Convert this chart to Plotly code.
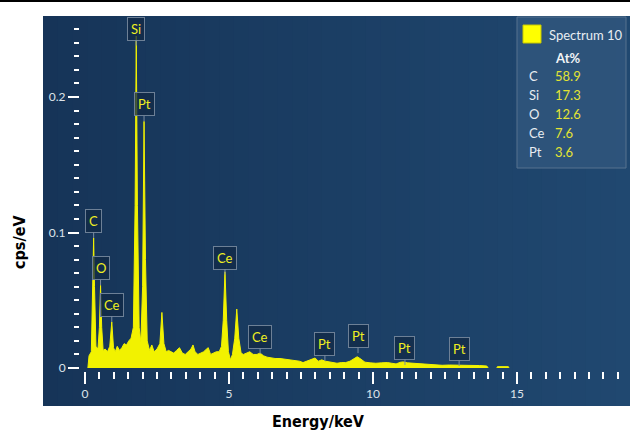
import plotly.graph_objects as go

# ---------------- data ----------------
energy_kev = [
    0.10, 0.14, 0.22, 0.27, 0.30, 0.33, 0.38, 0.45, 0.50, 0.54, 0.58, 0.63, 0.70, 0.78, 0.86,
    0.93, 0.99, 1.05, 1.12, 1.20, 1.28, 1.36, 1.44, 1.52, 1.60, 1.68, 1.74, 1.78, 1.82, 1.88,
    1.94, 2.00, 2.05, 2.10, 2.16, 2.24, 2.32, 2.40, 2.50, 2.60, 2.67, 2.74, 2.82, 2.90, 2.98,
    3.08, 3.18, 3.28, 3.38, 3.48, 3.58, 3.68, 3.75, 3.82, 3.92, 4.02, 4.12, 4.22, 4.28, 4.36,
    4.46, 4.56, 4.66, 4.74, 4.80, 4.86, 4.92, 4.98, 5.05, 5.12, 5.20, 5.27, 5.34, 5.42, 5.50,
    5.60, 5.72, 5.84, 5.97, 6.08, 6.20, 6.32, 6.45, 6.60, 6.77, 6.95, 7.12, 7.30, 7.45, 7.57,
    7.70, 7.85, 7.99, 8.10, 8.22, 8.35, 8.50, 8.62, 8.75, 8.90, 9.05, 9.20, 9.35, 9.45, 9.55,
    9.72, 9.90, 10.10, 10.30, 10.50, 10.65, 10.80, 10.95, 11.05, 11.20, 11.40, 11.60, 11.85,
    12.10, 12.40, 12.65, 12.90, 13.15, 13.40, 13.70, 13.95, 14.00, None, 14.30, 14.32, 14.70, 14.72,
]
counts_cps_per_ev = [
    0.000, 0.009, 0.012, 0.060, 0.096, 0.060, 0.016, 0.014, 0.030, 0.061, 0.030, 0.013, 0.014, 0.012, 0.016,
    0.034, 0.015, 0.012, 0.016, 0.013, 0.015, 0.018, 0.017, 0.020, 0.022, 0.030, 0.120, 0.245, 0.120, 0.030,
    0.019, 0.060, 0.182, 0.080, 0.020, 0.013, 0.017, 0.012, 0.014, 0.018, 0.041, 0.018, 0.012, 0.013, 0.012,
    0.011, 0.013, 0.015, 0.011, 0.010, 0.012, 0.014, 0.017, 0.012, 0.010, 0.011, 0.012, 0.014, 0.015, 0.010,
    0.011, 0.012, 0.012, 0.016, 0.035, 0.071, 0.035, 0.012, 0.006, 0.010, 0.022, 0.0435, 0.022, 0.011, 0.010,
    0.011, 0.012, 0.010, 0.010, 0.011, 0.009, 0.008, 0.0075, 0.007, 0.007, 0.0065, 0.006, 0.0055, 0.005, 0.004,
    0.005, 0.006, 0.0074, 0.005, 0.006, 0.005, 0.0045, 0.004, 0.0035, 0.004, 0.004, 0.005, 0.007, 0.0083, 0.007,
    0.0043, 0.0038, 0.0035, 0.0038, 0.004, 0.0035, 0.003, 0.0042, 0.0045, 0.0038, 0.0035, 0.003, 0.0028,
    0.0027, 0.002, 0.0022, 0.0022, 0.002, 0.002, 0.0018, 0.0015, 0.000, None, 0.000, 0.001, 0.001, 0.000,
]

peak_labels = ["C", "O", "Ce", "Si", "Pt", "Ce", "Ce", "Pt", "Pt", "Pt", "Pt"]
peak_energy = [0.30, 0.54, 0.93, 1.78, 2.05, 4.86, 6.08, 8.33, 9.48, 11.11, 12.99]
peak_tip = [0.096, 0.061, 0.034, 0.238, 0.182, 0.069, 0.0103, 0.0052, 0.011, 0.0022, 0.0015]

quant_elements = ["C", "Si", "O", "Ce", "Pt"]
quant_at_pct = ["58.9", "17.3", "12.6", "7.6", "3.6"]
spectrum_name = "Spectrum 10"

x_major_ticks = [0, 5, 10, 15]
y_major_ticks = [0, 0.1, 0.2]
y_tick_text = ["0", "0.1", "0.2"]

# ---------------- layout helpers ----------------
W, H = 630, 433
ML, MR, MT, MB = 43, 0, 16, 27
PW, PH = W - ML - MR, H - MT - MB


def px2x(px):
    return (px - ML) / PW


def py2y(py):
    return (H - MB - py) / PH


UI_FONT = "Lato, Open Sans, sans-serif"
TITLE_FONT = "Liberation Sans Narrow, DejaVu Sans Condensed, Roboto, Liberation Sans, sans-serif"

fig = go.Figure()
fig.add_trace(go.Scatter(
    x=energy_kev, y=counts_cps_per_ev, mode="lines", name=spectrum_name,
    line=dict(color="#f2f200", width=1), fill="tozeroy", fillcolor="#f2f200",
    connectgaps=False, showlegend=False, hoverinfo="skip",
))

shapes = []
# background gradient strips
n = 40
c0, c1 = (22, 52, 88), (32, 72, 112)
for i in range(n):
    t = i / (n - 1)
    col = tuple(int(round(a + (b - a) * t)) for a, b in zip(c0, c1))
    shapes.append(dict(type="rect", xref="paper", yref="paper", layer="below",
                       x0=i / n, x1=(i + 1) / n + 0.002, y0=0, y1=1,
                       fillcolor="rgb(%d,%d,%d)" % col, line=dict(width=0)))
# top black rule
shapes.append(dict(type="line", xref="paper", yref="paper", x0=px2x(0), x1=px2x(W),
                   y0=py2y(1), y1=py2y(1), line=dict(color="black", width=2)))
# legend / quant box
shapes.append(dict(type="rect", xref="paper", yref="paper", x0=px2x(517), x1=px2x(626),
                   y0=py2y(168), y1=py2y(17), fillcolor="rgba(48,86,124,0.85)",
                   line=dict(color="#56728f", width=1)))
shapes.append(dict(type="rect", xref="paper", yref="paper", x0=px2x(523), x1=px2x(541),
                   y0=py2y(43), y1=py2y(25), fillcolor="#ffff00", line=dict(color="#c8c800", width=1)))

annotations = []
for name, e, tip in zip(peak_labels, peak_energy, peak_tip):
    annotations.append(dict(
        x=e, y=tip, xref="x", yref="y", text=name, showarrow=True, ax=0, ay=-17,
        arrowhead=0, arrowwidth=1, arrowcolor="#7d8ea0",
        font=dict(family=UI_FONT, size=13, color="#eeee22"),
        bgcolor="rgba(18,42,70,0.75)", bordercolor="#6d8096", borderwidth=1, borderpad=3,
    ))

annotations.append(dict(x=px2x(547), y=py2y(35), xref="paper", yref="paper", text=spectrum_name,
                        showarrow=False, xanchor="left", yanchor="middle",
                        font=dict(family=UI_FONT, size=13, color="#e8edf2")))
annotations.append(dict(x=px2x(553), y=py2y(58), xref="paper", yref="paper", text="<b>At%</b>",
                        showarrow=False, xanchor="left", yanchor="middle",
                        font=dict(family=UI_FONT, size=13, color="#f2f4f6")))
for i, (el, val) in enumerate(zip(quant_elements, quant_at_pct)):
    yy = py2y(76 + 19 * i)
    annotations.append(dict(x=px2x(527), y=yy, xref="paper", yref="paper", text=el,
                            showarrow=False, xanchor="left", yanchor="middle",
                            font=dict(family=UI_FONT, size=13, color="#e8edf2")))
    annotations.append(dict(x=px2x(553), y=yy, xref="paper", yref="paper", text=val,
                            showarrow=False, xanchor="left", yanchor="middle",
                            font=dict(family=UI_FONT, size=13, color="#e4e432")))

# axis titles
annotations.append(dict(x=px2x(318), y=py2y(421), xref="paper", yref="paper", text="<b>Energy/keV</b>",
                        showarrow=False, xanchor="center", yanchor="middle",
                        font=dict(family=TITLE_FONT, size=16, color="black")))
annotations.append(dict(x=px2x(20), y=py2y(242), xref="paper", yref="paper", text="<b>cps/eV</b>",
                        showarrow=False, xanchor="center", yanchor="middle", textangle=-90,
                        font=dict(family=TITLE_FONT, size=16, color="black")))

ppx = 28.8   # px per keV
ppy = 1355.0  # px per cps/eV
x0_px, y0_py = 85, 368

fig.update_layout(
    width=W, height=H, margin=dict(l=ML, r=MR, t=MT, b=MB, pad=0),
    paper_bgcolor="white", plot_bgcolor="#1b3d62",
    shapes=shapes, annotations=annotations, showlegend=False,
    xaxis=dict(
        range=[(ML - x0_px) / ppx, (W - MR - x0_px) / ppx],
        anchor="free", position=py2y(371), showgrid=False, zeroline=False, showline=False,
        tickmode="array", tickvals=x_major_ticks, ticks="outside", ticklen=12, tickwidth=2,
        tickcolor="white", tickfont=dict(family=UI_FONT, size=12, color="#dde3ea"),
        minor=dict(tickmode="array", tickvals=[0.5 * k for k in range(1, 38)], ticks="outside",
                   ticklen=7, tickwidth=2, tickcolor="white"),
        fixedrange=True,
    ),
    yaxis=dict(
        range=[-(H - MB - y0_py) / ppy, (y0_py - MT) / ppy],
        anchor="free", position=px2x(79), showgrid=False, zeroline=False, showline=False,
        tickmode="array", tickvals=y_major_ticks, ticktext=y_tick_text, ticks="outside",
        ticklen=11, tickwidth=2, tickcolor="white",
        tickfont=dict(family=UI_FONT, size=12, color="#dde3ea"),
        minor=dict(tickmode="array", tickvals=[0.01 * k for k in range(1, 26)], ticks="outside",
                   ticklen=5, tickwidth=2, tickcolor="white"),
        fixedrange=True,
    ),
)

fig.write_html(
    "out.html",
    config={"displayModeBar": False, "staticPlot": True},
    post_script="document.body.style.margin='0';document.body.style.padding='0';"
                "document.documentElement.style.overflow='hidden';",
)
